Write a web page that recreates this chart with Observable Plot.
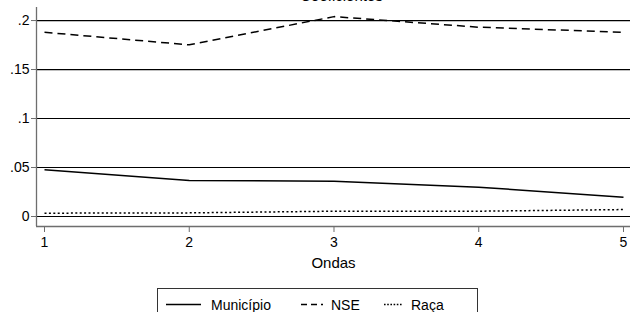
<!DOCTYPE html>
<html><head><meta charset="utf-8">
<script src="https://cdn.jsdelivr.net/npm/d3@7"></script>
<script src="https://cdn.jsdelivr.net/npm/@observablehq/plot@0.6"></script>
<style>
html,body{margin:0;padding:0;background:#fff;}
body{font-family:"Liberation Sans",Arial,sans-serif;}
#wrap{position:relative;width:630px;height:312px;overflow:hidden;}
#chart svg{display:block;overflow:visible;}
#legend{position:absolute;left:157px;top:288px;width:321px;height:40px;border:1px solid #333;box-sizing:border-box;font-size:14px;color:#000;}
#legend svg{position:absolute;top:0;}
#legend span{position:absolute;top:4px;white-space:nowrap;line-height:16px;}
</style>
</head><body>
<div id="wrap"><div id="chart"></div><div id="legend"></div></div>
<script>
const titleText = "Coeficientes";
const xLabel = "Ondas";
const ondas = [1, 2, 3, 4, 5];
const seriesNames = ["Município", "NSE", "Raça"];
const municipio = [0.0476, 0.0367, 0.0360, 0.0299, 0.0197];
const nse = [0.1880, 0.1752, 0.2040, 0.1932, 0.1880];
const raca = [0.0034, 0.0037, 0.0054, 0.0054, 0.0071];
const yTicks = [0, 0.05, 0.1, 0.15, 0.2];
const yTickLabels = ["0", ".05", ".1", ".15", ".2"];

const dashes = {"Município": null, "NSE": "8,5", "Raça": "2,2.4"};
const valuesBy = {"Município": municipio, "NSE": nse, "Raça": raca};
const data = seriesNames.flatMap(s => ondas.map((o, i) => ({serie: s, onda: o, valor: valuesBy[s][i]})));

const xDom = [0.9447, 5.0484];
const yDom = [-0.0102, 0.2133];
const grey = "#6e6e6e";

const chart = Plot.plot({
  width: 630, height: 284,
  marginTop: 7, marginBottom: 58, marginLeft: 36, marginRight: 0,
  style: {fontFamily: "'Liberation Sans', Arial, sans-serif", fontSize: "14px", color: "#000", background: "#fff", overflow: "visible"},
  x: {domain: xDom},
  y: {domain: yDom},
  marks: [
    Plot.gridY(yTicks, {stroke: "#000", strokeOpacity: 1, strokeWidth: 1.2}),
    Plot.ruleX([xDom[0]], {stroke: grey, strokeWidth: 1.3}),
    Plot.ruleY([yDom[0]], {stroke: grey, strokeWidth: 1.3}),
    Plot.axisY(yTicks, {tickSize: 5, tickPadding: 2, stroke: grey, fill: "#000", fontSize: 14,
      tickFormat: (d) => yTickLabels[yTicks.indexOf(d)], label: null}),
    Plot.axisX(ondas, {tickSize: 6, tickPadding: 5, stroke: grey, fill: "#000", fontSize: 14,
      tickFormat: d => String(d), label: null}),
    ...seriesNames.map(s => Plot.line(data.filter(d => d.serie === s), {
      x: "onda", y: "valor", stroke: "#000", strokeWidth: 1.5,
      strokeDasharray: dashes[s], strokeLinecap: "butt", strokeLinejoin: "round"
    })),
    Plot.text([xLabel], {frameAnchor: "bottom", dy: 41, fontSize: 15, fill: "#000"}),
    Plot.text([titleText], {frameAnchor: "top", dx: 8, dy: -17, fontSize: 15, fill: "#000"})
  ]
});
document.getElementById("chart").appendChild(chart);

// legend
const legend = document.getElementById("legend");
const items = [
  {name: seriesNames[0], sx: 8, sw: 35, tx: 53},
  {name: seriesNames[1], sx: 143, sw: 22, tx: 173},
  {name: seriesNames[2], sx: 226, sw: 19, tx: 253}
];
items.forEach(it => {
  const ns = "http://www.w3.org/2000/svg";
  const svg = document.createElementNS(ns, "svg");
  svg.setAttribute("width", it.sw); svg.setAttribute("height", 24);
  svg.style.left = it.sx + "px";
  const ln = document.createElementNS(ns, "line");
  ln.setAttribute("x1", 0); ln.setAttribute("x2", it.sw);
  ln.setAttribute("y1", 15.5); ln.setAttribute("y2", 15.5);
  ln.setAttribute("stroke", "#000"); ln.setAttribute("stroke-width", 1.5);
  if (dashes[it.name]) ln.setAttribute("stroke-dasharray", it.name === "NSE" ? "6,4" : "1.6,1.6");
  svg.appendChild(ln);
  legend.appendChild(svg);
  const sp = document.createElement("span");
  sp.textContent = it.name;
  sp.style.left = it.tx + "px";
  sp.style.top = "8px";
  legend.appendChild(sp);
});
</script>
</body></html>
